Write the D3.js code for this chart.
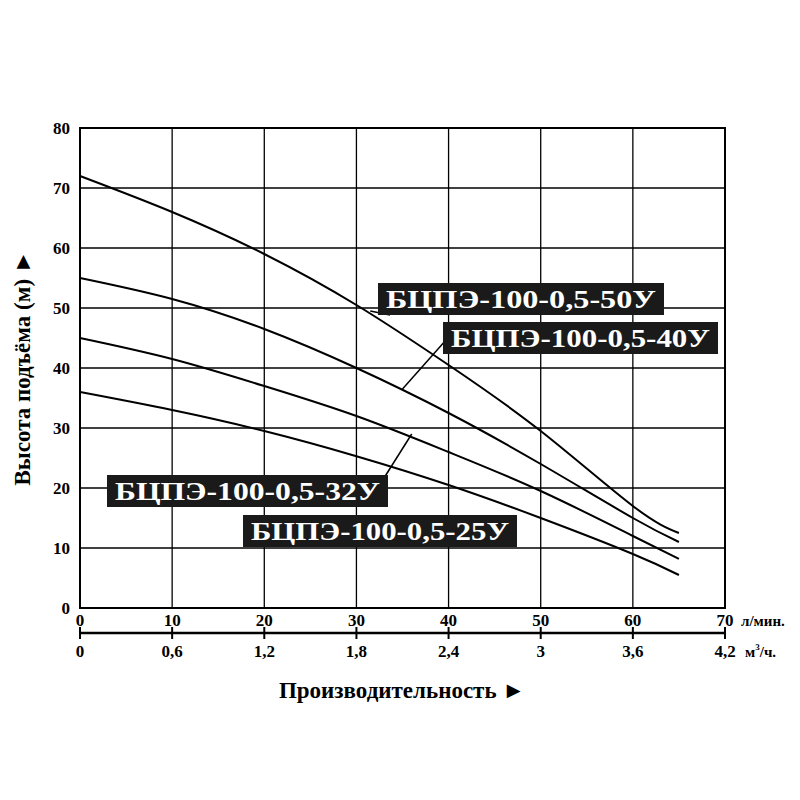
<!DOCTYPE html><html><head><meta charset="utf-8"><script src="https://cdn.jsdelivr.net/npm/d3@7"></script>
<style>body{margin:0;background:#fff}text{font-family:"Liberation Serif",serif;font-weight:bold}</style></head><body>
<script>
const flowLmin=[0,10,20,30,40,50,60,65];
const s50=[72,66,59,50.5,40.5,29.5,17,12.5];
const s40=[55,51.5,46.5,40,32.5,24,15,11];
const s32=[45,41.5,37,32,26,19.5,12,8.2];
const s25=[36,33,29.5,25.3,20.5,15,9,5.5];
const xTicks1=[0,10,20,30,40,50,60,70];
const xTicks2=["0","0,6","1,2","1,8","2,4","3","3,6","4,2"];
const yTicks=[0,10,20,30,40,50,60,70,80];
const labels=[
 {t:"БЦПЭ-100-0,5-50У",bx:378,by:283,w:286,ax:31.5,ay:49.5,lx:390,ly:315},
 {t:"БЦПЭ-100-0,5-40У",bx:443,by:322,w:275,ax:35,ay:36.5,lx:446,ly:340},
 {t:"БЦПЭ-100-0,5-32У",bx:107,by:475,w:281,ax:36,ay:29,lx:384,ly:478},
 {t:"БЦПЭ-100-0,5-25У",bx:243,by:515,w:274,ax:null}
];
const svg=d3.select("body").append("svg").attr("width",800).attr("height",800);
const x=d3.scaleLinear().domain([0,70]).range([80,725]);
const y=d3.scaleLinear().domain([0,80]).range([608,128]);
const g=svg.append("g");
g.selectAll(".vg").data(xTicks1).join("line").attr("x1",d=>x(d)).attr("x2",d=>x(d)).attr("y1",y(80)).attr("y2",y(0)).attr("stroke","#000").attr("stroke-width",1.3);
g.selectAll(".hg").data(yTicks).join("line").attr("y1",d=>y(d)).attr("y2",d=>y(d)).attr("x1",x(0)).attr("x2",x(70)).attr("stroke","#000").attr("stroke-width",1.3);
g.append("rect").attr("x",x(0)).attr("y",y(80)).attr("width",x(70)-x(0)).attr("height",y(0)-y(80)).attr("fill","none").attr("stroke","#000").attr("stroke-width",2);
g.selectAll(".yl").data(yTicks).join("text").attr("x",70).attr("y",d=>y(d)+6).attr("text-anchor","end").attr("font-size",17).text(d=>d);
const yy=633;
g.append("line").attr("x1",x(0)).attr("x2",x(70)).attr("y1",yy).attr("y2",yy).attr("stroke","#000").attr("stroke-width",2.5);
g.selectAll(".tk").data(xTicks1).join("line").attr("x1",d=>x(d)).attr("x2",d=>x(d)).attr("y1",yy-6).attr("y2",yy+6).attr("stroke","#000").attr("stroke-width",2);
g.selectAll(".x1").data(xTicks1).join("text").attr("x",d=>x(d)).attr("y",626).attr("text-anchor","middle").attr("font-size",17).text(d=>d);
g.selectAll(".x2").data(xTicks2).join("text").attr("x",(d,i)=>x(xTicks1[i])).attr("y",657).attr("text-anchor","middle").attr("font-size",17).text(d=>d);
g.append("text").attr("x",741).attr("y",626).attr("font-size",15).text("л/мин.");
g.append("text").attr("x",745).attr("y",657).attr("font-size",15).html('м<tspan dy="-7" font-size="9">3</tspan><tspan dy="7">/ч.</tspan>');
g.append("text").attr("x",402).attr("y",698).attr("text-anchor","middle").attr("font-size",23).text("Производительность ►");
g.append("text").attr("transform","translate(30,368) rotate(-90)").attr("text-anchor","middle").attr("font-size",23).text("Высота подъёма (м) ►");
const line=d3.line().x((d,i)=>x(flowLmin[i])).y(d=>y(d)).curve(d3.curveNatural);
[s50,s40,s32,s25].forEach(s=>g.append("path").attr("d",line(s)).attr("fill","none").attr("stroke","#000").attr("stroke-width",2));
labels.forEach(l=>{
 if(l.ax!==null){g.append("line").attr("x1",l.lx).attr("y1",l.ly).attr("x2",x(l.ax)).attr("y2",y(l.ay)).attr("stroke","#000").attr("stroke-width",1.5);}
 g.append("rect").attr("x",l.bx).attr("y",l.by).attr("width",l.w).attr("height",32).attr("fill","#1a1a1a");
 g.append("text").attr("x",l.bx+l.w/2).attr("y",l.by+25).attr("text-anchor","middle").attr("fill","#fff").attr("font-size",25).attr("textLength",l.w-16).attr("lengthAdjust","spacingAndGlyphs").text(l.t);
});
</script></body></html>
